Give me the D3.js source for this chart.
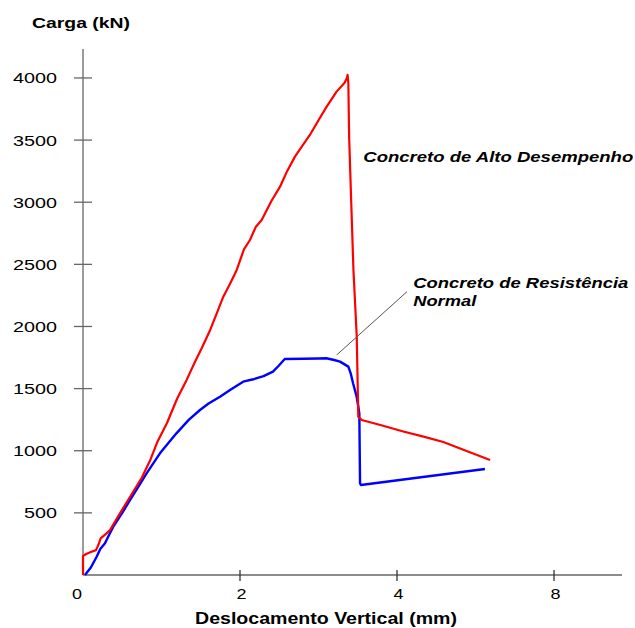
<!DOCTYPE html>
<html>
<head>
<meta charset="utf-8">
<script src="https://cdn.jsdelivr.net/npm/d3@7"></script>
<style>
  html, body { margin: 0; padding: 0; background: #fff; }
  svg { display: block; }
  text { font-family: "Liberation Sans", Arial, sans-serif; fill: #000; }
</style>
</head>
<body>
<svg id="chart" width="635" height="628"></svg>
<script>
// Load–displacement curves (displacement in mm, load in kN)
const highPerfDisp = [0, 0, 0.04, 0.10, 0.166, 0.195, 0.225, 0.30, 0.344, 0.45, 0.60, 0.75, 0.86, 0.95, 1.07, 1.20, 1.32, 1.43, 1.512, 1.62, 1.70, 1.787, 1.87, 1.958, 2.05, 2.127, 2.20, 2.276, 2.40, 2.51, 2.60, 2.70, 2.80, 2.89, 3.00, 3.104, 3.23, 3.33, 3.36, 3.37, 3.38, 3.39, 3.42, 3.445, 3.487, 3.507, 3.55, 3.80, 4.08, 4.35, 4.59, 4.845, 5.185];
const highPerfLoad = [0, 153, 169, 185, 200, 241, 295, 335, 362, 475, 630, 785, 930, 1075, 1223, 1420, 1570, 1720, 1825, 1972, 2100, 2240, 2340, 2455, 2620, 2696, 2800, 2857, 3010, 3125, 3250, 3367, 3460, 3541, 3660, 3769, 3890, 3960, 3998, 4024, 3960, 3528, 2938, 2455, 1918, 1274, 1247, 1205, 1155, 1112, 1070, 1008, 925];

const normalDisp = [0.025, 0.10, 0.174, 0.22, 0.28, 0.33, 0.386, 0.50, 0.60, 0.70, 0.81, 0.98, 1.19, 1.35, 1.49, 1.60, 1.745, 1.873, 2.04, 2.17, 2.30, 2.42, 2.49, 2.57, 2.80, 3.00, 3.10, 3.20, 3.274, 3.38, 3.41, 3.44, 3.486, 3.507, 3.52, 3.529, 3.54, 5.12];
const normalLoad = [0, 60, 147, 210, 255, 320, 389, 500, 604, 705, 818, 979, 1140, 1250, 1328, 1380, 1435, 1489, 1556, 1575, 1600, 1637, 1682, 1738, 1740, 1742, 1744, 1730, 1717, 1677, 1623, 1543, 1435, 1355, 1301, 738, 724, 853];

// Axis ticks and their printed labels
const xTickValues = [0, 2, 4, 6];
const xTickLabels = ["0", "2", "4", "8"];
const yTickValues = [500, 1000, 1500, 2000, 2500, 3000, 3500, 4000];
const yTickLabels = ["500", "1000", "1500", "2000", "2500", "3000", "3500", "4000"];

// Curve annotations
const annoHighPerf = ["Concreto de Alto Desempenho"];
const annoNormal = ["Concreto de Resistência", "Normal"];

const svg = d3.select("#chart");

const x = d3.scaleLinear().domain([0, 6.866]).range([83, 622]);
const y = d3.scaleLinear().domain([0, 4233]).range([575, 49]);

const axisColor = "#666";

// Y axis
svg.append("line")
  .attr("x1", x(0)).attr("x2", x(0))
  .attr("y1", y.range()[1]).attr("y2", y(0))
  .attr("stroke", axisColor).attr("stroke-width", 1.3);

const yTickG = svg.append("g");
yTickValues.forEach((v, i) => {
  yTickG.append("line")
    .attr("x1", x(0) - 9).attr("x2", x(0) + 9)
    .attr("y1", y(v)).attr("y2", y(v))
    .attr("stroke", axisColor).attr("stroke-width", 1.3);
  const label = yTickLabels[i];
  yTickG.append("text")
    .attr("x", 57).attr("y", y(v) + 5.5)
    .attr("text-anchor", "end")
    .attr("font-size", 15)
    .attr("textLength", label.length * 11)
    .attr("lengthAdjust", "spacingAndGlyphs")
    .text(label);
});

// X axis
svg.append("line")
  .attr("x1", x(0)).attr("x2", x.range()[1])
  .attr("y1", y(0)).attr("y2", y(0))
  .attr("stroke", axisColor).attr("stroke-width", 1.3);

const xTickG = svg.append("g");
xTickValues.forEach((v, i) => {
  if (i > 0) {
    xTickG.append("line")
      .attr("x1", x(v)).attr("x2", x(v))
      .attr("y1", y(0) - 5).attr("y2", y(0) + 6)
      .attr("stroke", "#333").attr("stroke-width", 1.3);
  }
  xTickG.append("text")
    .attr("x", i === 0 ? x(v) - 1 : x(v) + 1.5)
    .attr("y", 599)
    .attr("text-anchor", i === 0 ? "end" : "middle")
    .attr("font-size", 15)
    .attr("textLength", 10)
    .attr("lengthAdjust", "spacingAndGlyphs")
    .text(xTickLabels[i]);
});

// Axis titles
svg.append("text")
  .attr("x", 32).attr("y", 28)
  .attr("font-size", 15).attr("font-weight", "bold")
  .attr("textLength", 98).attr("lengthAdjust", "spacingAndGlyphs")
  .text("Carga (kN)");

svg.append("text")
  .attr("x", 195).attr("y", 624)
  .attr("font-size", 16).attr("font-weight", "bold")
  .attr("textLength", 262).attr("lengthAdjust", "spacingAndGlyphs")
  .text("Deslocamento Vertical (mm)");

// Curves
const line = d3.line().x(d => x(d[0])).y(d => y(d[1]));

const normalPts = d3.zip(normalDisp, normalLoad);
const highPerfPts = d3.zip(highPerfDisp, highPerfLoad);

svg.append("path")
  .datum(normalPts)
  .attr("d", line)
  .attr("fill", "none")
  .attr("stroke", "#0000ff")
  .attr("stroke-width", 2.4)
  .attr("stroke-linejoin", "round");

svg.append("path")
  .datum(highPerfPts)
  .attr("d", line)
  .attr("fill", "none")
  .attr("stroke", "#ff0000")
  .attr("stroke-width", 2.2)
  .attr("stroke-linejoin", "round");

// Leader line pointing to the normal-strength curve
svg.append("line")
  .attr("x1", x(3.232)).attr("y1", y(1771))
  .attr("x2", x(4.127)).attr("y2", y(2280))
  .attr("stroke", "#555").attr("stroke-width", 1);

// Curve labels
svg.append("text")
  .attr("x", x(3.57)).attr("y", y(3322))
  .attr("font-size", 14).attr("font-weight", "bold").attr("font-style", "italic")
  .attr("textLength", 270).attr("lengthAdjust", "spacingAndGlyphs")
  .text(annoHighPerf[0]);

svg.append("text")
  .attr("x", x(4.207)).attr("y", y(2310))
  .attr("font-size", 14).attr("font-weight", "bold").attr("font-style", "italic")
  .attr("textLength", 215).attr("lengthAdjust", "spacingAndGlyphs")
  .text(annoNormal[0]);

svg.append("text")
  .attr("x", x(4.207)).attr("y", y(2165))
  .attr("font-size", 14).attr("font-weight", "bold").attr("font-style", "italic")
  .attr("textLength", 63).attr("lengthAdjust", "spacingAndGlyphs")
  .text(annoNormal[1]);
</script>
</body>
</html>
